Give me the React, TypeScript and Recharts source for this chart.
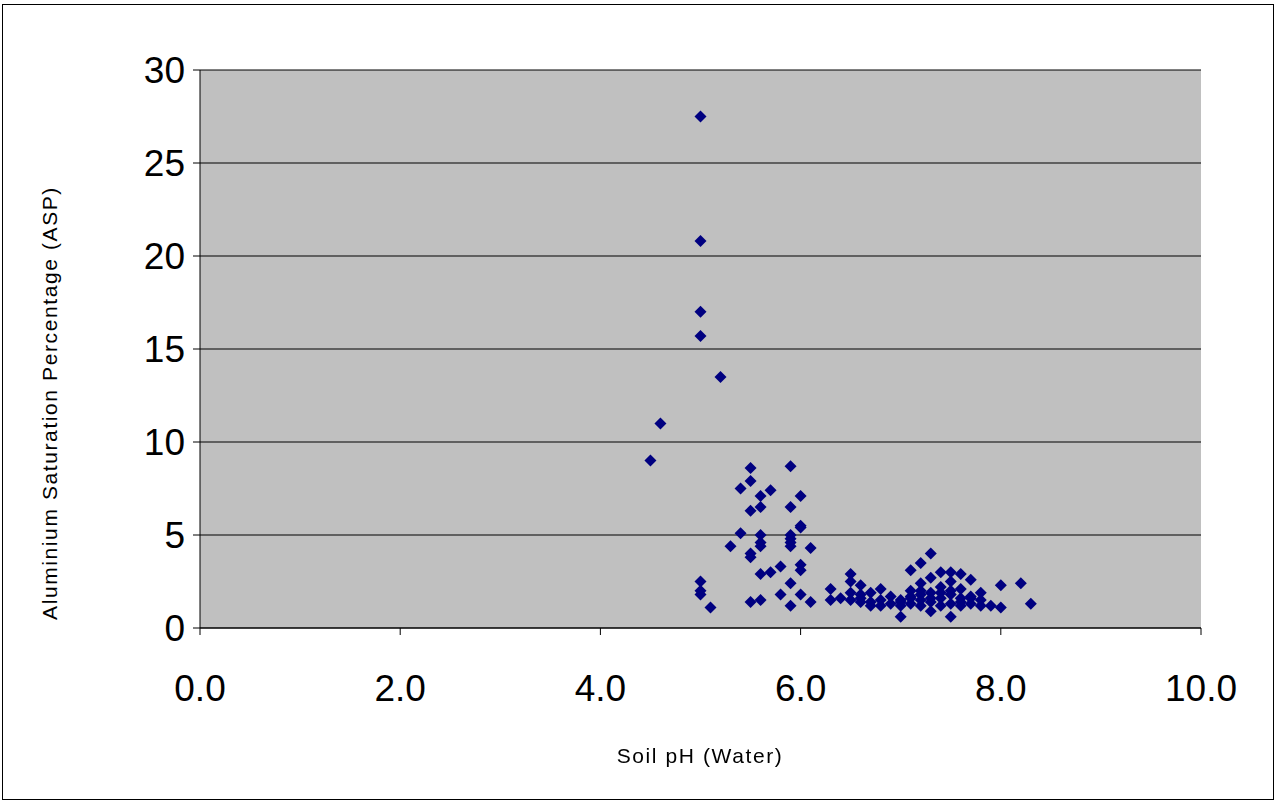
import { ScatterChart, Scatter, XAxis, YAxis, CartesianGrid } from "recharts";

const phValues = [
  5.0, 5.0, 5.0, 5.0, 5.2, 4.6, 4.5, 5.0, 5.0, 5.0, 5.1,
  5.5, 5.9, 5.5, 5.4, 5.7, 5.6, 6.0, 5.9, 5.5, 5.6, 6.0, 6.0, 5.4, 5.6, 5.9, 5.9, 5.9, 5.9,
  5.6, 5.6, 5.3, 6.1, 5.5, 5.5, 6.0, 6.0, 5.8, 5.7, 5.6, 5.9, 5.8, 6.0, 5.5, 5.6, 5.9, 6.1,
  6.3, 6.3, 6.4, 6.5, 6.5, 6.5, 6.6, 6.6, 6.6, 6.7, 6.7, 6.8, 6.8, 6.8, 6.9, 6.9, 7.0, 7.0, 7.0,
  7.1, 7.1, 7.1, 7.1, 7.2, 7.2, 7.2, 7.2, 7.2, 7.3, 7.3, 7.3, 7.3, 7.3, 7.4, 7.4, 7.4, 7.4,
  7.5, 7.5, 7.5, 7.5, 7.5, 7.6, 7.6, 7.6, 7.6, 7.7, 7.7, 7.7, 7.8, 7.8, 7.8, 7.9, 8.0, 8.0, 8.2, 8.3,
  6.5, 6.6, 6.7, 7.0, 7.1, 7.2, 7.3, 7.4, 7.5, 7.6, 7.7,
];
const aspValues = [
  27.5, 20.8, 17.0, 15.7, 13.5, 11.0, 9.0, 2.5, 2.0, 1.8, 1.1,
  8.6, 8.7, 7.9, 7.5, 7.4, 7.1, 7.1, 6.5, 6.3, 6.5, 5.5, 5.4, 5.1, 5.0, 5.0, 4.8, 4.6, 4.4,
  4.6, 4.4, 4.4, 4.3, 4.0, 3.8, 3.4, 3.1, 3.3, 3.0, 2.9, 2.4, 1.8, 1.8, 1.4, 1.5, 1.2, 1.4,
  2.1, 1.5, 1.6, 2.9, 2.5, 1.5, 2.3, 1.8, 1.4, 1.9, 1.2, 2.1, 1.5, 1.2, 1.7, 1.3, 1.5, 0.6, 1.2,
  3.1, 2.0, 1.6, 1.3, 3.5, 2.4, 1.8, 1.5, 1.2, 4.0, 2.7, 1.9, 1.4, 0.9, 3.0, 2.2, 1.6, 1.2,
  3.0, 2.5, 1.8, 1.3, 0.6, 2.9, 2.1, 1.6, 1.2, 2.6, 1.7, 1.3, 1.9, 1.5, 1.2, 1.2, 2.3, 1.1, 2.4, 1.3,
  1.9, 1.6, 1.4, 1.4, 1.7, 2.0, 1.6, 1.9, 2.0, 1.4, 1.6,
];
const data = phValues.map((x, i) => ({ x, y: aspValues[i] }));
const xTicks = [0, 2, 4, 6, 8, 10];
const yTicks = [0, 5, 10, 15, 20, 25, 30];

const Diamond = (p: any) => (
  <path d={`M${p.cx},${p.cy - 6}L${p.cx + 6},${p.cy}L${p.cx},${p.cy + 6}L${p.cx - 6},${p.cy}Z`} fill="#000080" />
);

export default function App() {
  return (
    <div style={{ position: "fixed", left: 0, top: 0, width: 1275, height: 801, background: "#fff", fontFamily: "Arial, 'Liberation Sans', sans-serif" }}>
      <div style={{ position: "absolute", left: 2, top: 4, width: 1270, height: 794, border: "1px solid #000" }} />
      <ScatterChart width={1275} height={730} margin={{ top: 70, right: 74, bottom: 2, left: 100 }} style={{ position: "absolute", left: 0, top: 0 }}>
        <CartesianGrid horizontal vertical={false} stroke="#000" fill="#c0c0c0" fillOpacity={1} />
        <XAxis type="number" dataKey="x" domain={[0, 10]} ticks={xTicks} tickFormatter={(v) => v.toFixed(1)}
          tick={{ fontSize: 37, fill: "#000" }} stroke="#000" tickSize={7} tickMargin={40} height={100} />
        <YAxis type="number" dataKey="y" domain={[0, 30]} ticks={yTicks}
          tick={{ fontSize: 37, fill: "#000" }} stroke="#000" tickSize={7} width={100} tickMargin={8} />
        <Scatter data={data} shape={Diamond} isAnimationActive={false} />
      </ScatterChart>
      <div style={{ position: "absolute", left: 0, width: 1400, top: 744, textAlign: "center", fontSize: 21, letterSpacing: 1.6 }}>Soil pH (Water)</div>
      <div style={{ position: "absolute", left: 50, top: 403, fontSize: 21, letterSpacing: 1.6, transform: "translate(-50%,-50%) rotate(-90deg)", whiteSpace: "nowrap" }}>
        Aluminium Saturation Percentage (ASP)
      </div>
    </div>
  );
}
